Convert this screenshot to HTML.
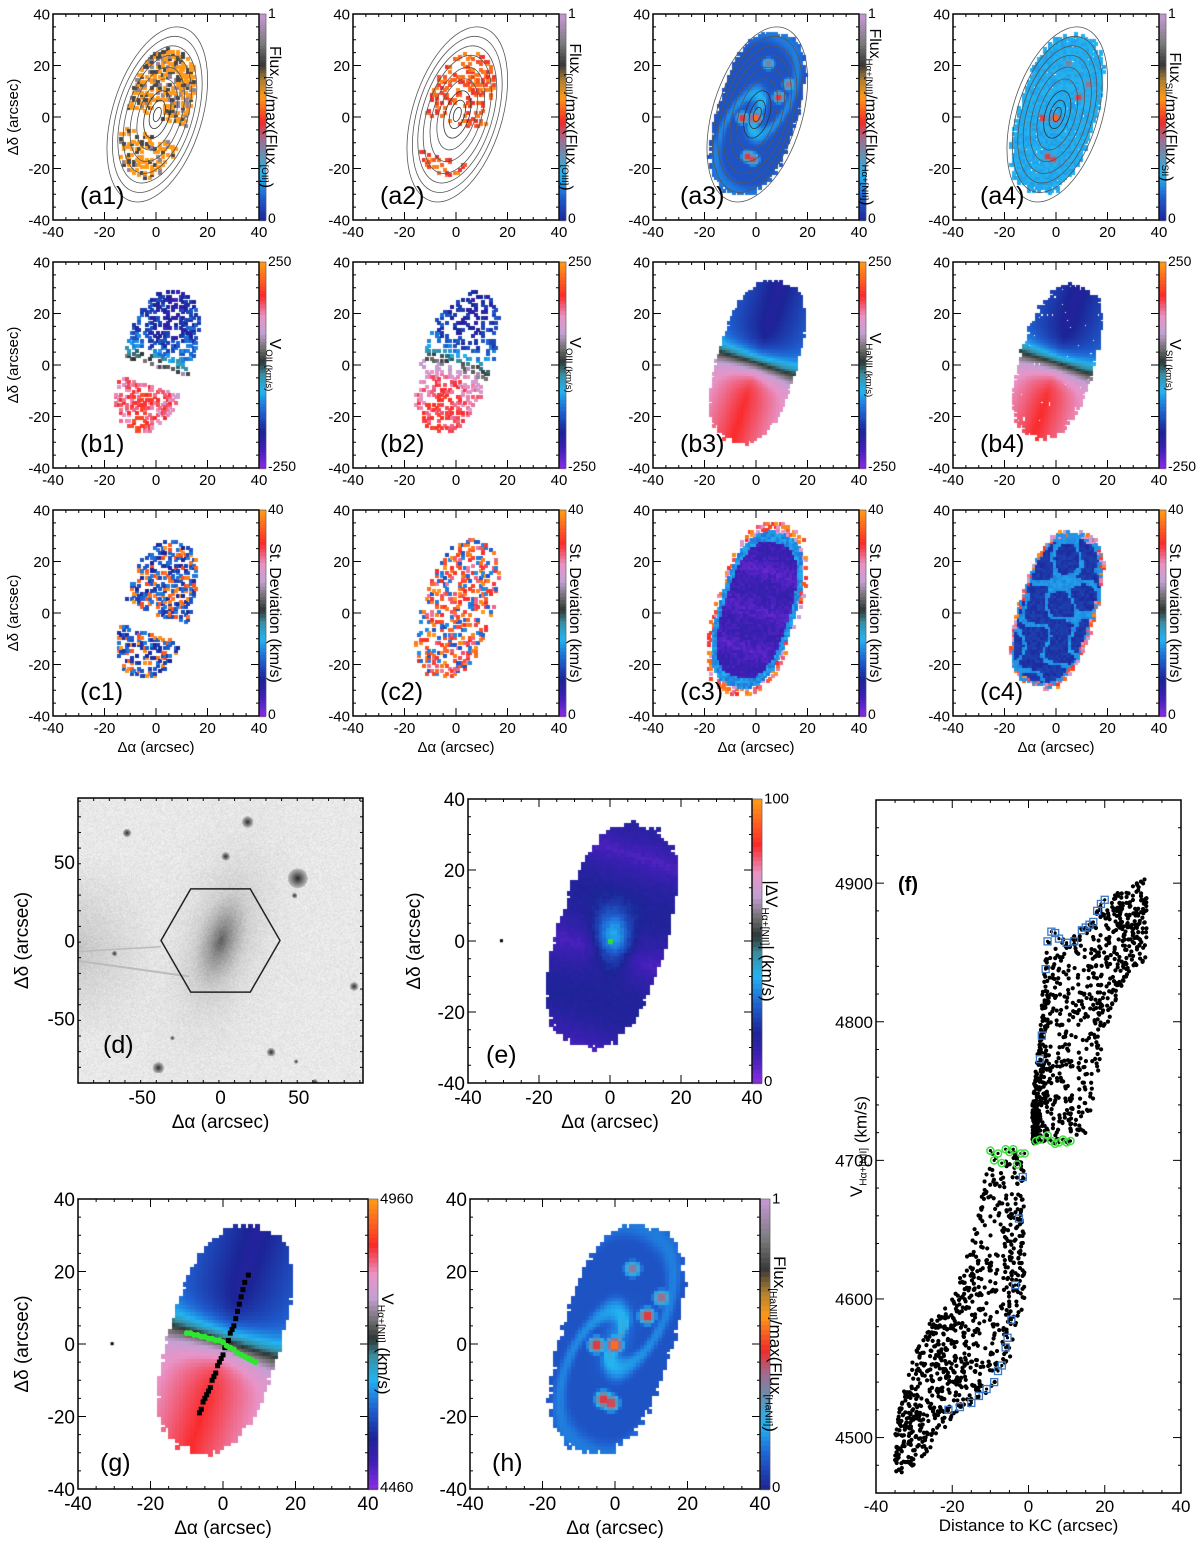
<!DOCTYPE html>
<html><head><meta charset="utf-8">
<style>
html,body{margin:0;padding:0;background:#fff;}
#wrap{position:relative;width:1200px;height:1547px;overflow:hidden;}
#cv{position:absolute;left:0;top:0;}
#sv{position:absolute;left:0;top:0;}
text{font-family:"Liberation Sans",sans-serif;fill:#000;}
</style></head>
<body>
<div id="wrap">
<canvas id="cv" width="1200" height="1547"></canvas>
<svg id="sv" width="1200" height="1547" xmlns="http://www.w3.org/2000/svg"></svg>
</div>
<script>
// ---------- data for panel (f) ----------
const fBinX=[-35,-30,-25,-20,-15,-10,-5,-1, 1,3,5,10,15,20,25,31];
const fLo=[4472,4480,4495,4515,4522,4535,4555,4600, 4712,4712,4712,4712,4715,4790,4830,4845];
const fHi=[4510,4560,4590,4600,4640,4705,4710,4700, 4740,4800,4860,4860,4872,4890,4895,4905];
const fBlueX=[-21,-18,-15,-13,-11,-9,-8,-7,-6,-5.5,-4.5,-3.5,-2.5,-1.5,3,3.5,4.5,5,6,7,8,10,12,14,15,16,17,18,19,20];
const fBlueV=[4520,4522,4525,4530,4535,4540,4548,4552,4565,4572,4585,4610,4658,4688,4773,4790,4838,4858,4865,4864,4860,4857,4858,4866,4868,4870,4872,4880,4885,4888];
const fGreenX=[-10,-9,-8,-7,-6,-5,-4,-3,-2,-1,2,3,5,6,7,8,9,10,11];
const fGreenV=[4707,4700,4705,4698,4708,4706,4708,4697,4705,4705,4714,4715,4718,4714,4712,4713,4715,4713,4714];
const fXTicks=[-40,-20,0,20,40];
const fYTicks=[4500,4600,4700,4800,4900];
// ---------- data for panel (g) overlays ----------
const gBlackX=[7,6,5.5,5,4.5,4,3.5,3,2.5,2,1.5,1,0.5,0,-0.5,-1,-1.5,-2,-2.5,-3,-3.5,-4,-4.5,-5,-5.5,-6,-6.5];
const gBlackY=[19,17,15,13,11,9,7,5,4,3,1,0,-1,-3,-4,-5,-6,-8,-9,-10,-12,-13,-14,-15,-16,-18,-19];
const gGreenX=[-10,-9,-8,-7,-6,-5,-4,-3,-2,-1,0,1,2,3,4,5,6,7,8,9];
const gGreenY=[3,3,2.5,2.5,2,2,1.5,1.5,1,1,0.5,-0.5,-1,-1.5,-2.5,-3,-3.5,-4,-4.5,-5];
// ---------- map knots ----------
const knotX=[-5,0,9,13,5,-3,-1];
const knotY=[0,0,8,13,21,-15,-16];
const knotT=[0.5,0.6,0.5,0.42,0.4,0.5,0.48];
// ---------- panel (d) stars ----------
const starX=[-60,17,3,49,47,-68,85,-40,32,-31,48,60];
const starY=[69,76,54,40,29,-8,-29,-81,-71,-62,-77,-90];
const starR=[3,4,3,7,2,2,3,4,3,1.5,1.5,2];
const contourA=[3,6,10,15,20,25,29,33,37];

const NS="http://www.w3.org/2000/svg";
const svg=document.getElementById('sv');
const ctx=document.getElementById('cv').getContext('2d');

function mk(tag,attrs,parent){const e=document.createElementNS(NS,tag);for(const k in attrs)e.setAttribute(k,attrs[k]);(parent||svg).appendChild(e);return e;}
function hsh(i,j,s){let n=Math.sin(i*127.1+j*311.7+s*74.7)*43758.5453;return n-Math.floor(n);}
function hex2(c){return [parseInt(c.substr(1,2),16),parseInt(c.substr(3,2),16),parseInt(c.substr(5,2),16)];}
function mkmap(stops){const s=stops.map(a=>[a[0],hex2(a[1])]);return function(t){t=Math.max(0,Math.min(1,t));for(let i=1;i<s.length;i++){if(t<=s[i][0]){const a=s[i-1],b=s[i];const f=(t-a[0])/(b[0]-a[0]||1);return 'rgb('+[0,1,2].map(k=>Math.round(a[1][k]+(b[1][k]-a[1][k])*f)).join(',')+')';}}const l=s[s.length-1][1];return 'rgb('+l.join(',')+')';};}
const VEL=mkmap([[0,'#8c2ee6'],[0.1,'#3c1fb4'],[0.18,'#1c2496'],[0.28,'#1f62d2'],[0.38,'#22b4f2'],[0.46,'#3a8c9c'],[0.52,'#2e3636'],[0.58,'#6c6c6c'],[0.66,'#c4a0d4'],[0.74,'#e894c8'],[0.84,'#fa2a2a'],[1,'#ff9a18']]);
const FLUX=mkmap([[0,'#1c2496'],[0.12,'#1f62d2'],[0.22,'#22b4f2'],[0.32,'#6890b0'],[0.4,'#a06c90'],[0.48,'#f22a2a'],[0.6,'#ff9a18'],[0.68,'#b08030'],[0.76,'#383838'],[0.86,'#7a7a7a'],[1,'#c898d8']]);

function P(x0,y0,w,h,xmin,xmax,ymin,ymax){return {x0,y0,w,h,xmin,xmax,ymin,ymax,fx:x=>x0+(x-xmin)/(xmax-xmin)*w,fy:y=>y0+h-(y-ymin)/(ymax-ymin)*h};}

// galaxy geometry (boxy, tilted)
const TH=17*Math.PI/180;
function geo(x,y){const dx=x-0.5,dy=y-1.5;const u=dx*Math.sin(TH)+dy*Math.cos(TH);const v=dx*Math.cos(TH)-dy*Math.sin(TH);return {u,v,r:Math.pow(Math.pow(Math.abs(u/32),2.6)+Math.pow(Math.abs(v/15),2.6),1/2.6)};}
function knots(x,y,sc){let t=0;for(let k=0;k<knotX.length;k++){const d2=(x-knotX[k])**2+(y-knotY[k])**2;t=Math.max(t,knotT[k]*Math.exp(-d2/(sc||5)));}return t;}

function drawMap(p,fn,cmap){for(let i=-40;i<40;i++)for(let j=-40;j<40;j++){const x=i+0.5,y=j+0.5;const t=fn(x,y,i,j);if(t===null||t===undefined)continue;ctx.fillStyle=cmap(t);const X1=p.fx(i),X2=p.fx(i+1),Y1=p.fy(j+1),Y2=p.fy(j);ctx.fillRect(Math.floor(X1),Math.floor(Y1),Math.ceil(X2-X1)+1,Math.ceil(Y2-Y1)+1);}}

function velT(g){return 0.5-0.34*Math.tanh(g.u/6)*(1-0.3*Math.min(1,Math.abs(g.v)/15));}
function armT(g){const ph=Math.atan2(g.v,g.u);const s=Math.max(0,Math.sin(2*ph+8*g.r));return 0.09+0.12*s*s*(1-0.5*g.r)+0.08*Math.exp(-g.r*g.r*20);}
const MF={
a1:(x,y,i,j)=>{const g=geo(x,y);if(g.r<0.15||g.r>0.8)return null;if(hsh(i,j,1)>(g.u>0?0.62:0.4))return null;if(g.u<-2&&g.u>-9)return null;const h=hsh(i,j,2);return h<0.6?0.6:(h<0.85?0.78:0.9);},
a2:(x,y,i,j)=>{const g=geo(x,y);if(g.r<0.15||g.r>0.78)return null;if(hsh(i,j,3)>0.34)return null;if(g.u<-4&&g.u>-18)return null;return 0.47+0.12*hsh(i,j,4);},
a3:(x,y,i,j)=>{const g=geo(x,y);if(g.r>1+0.08*(hsh(i,j,5)-0.5))return null;return Math.max(armT(g),knots(x,y,6));},
a4:(x,y,i,j)=>{const g=geo(x,y);if(g.r>0.97+0.1*(hsh(i,j,6)-0.5))return null;if(hsh(i,j,7)>0.97)return null;return Math.max(0.19+0.04*hsh(i,j,8),knots(x,y,5));},
b1:(x,y,i,j)=>{const g=geo(x,y);if(g.r>0.88||hsh(i,j,9)>0.42)return null;if(g.u>-10&&g.u<-2)return null;return velT(g)+0.15*(hsh(i,j,10)-0.5);},
b2:(x,y,i,j)=>{const g=geo(x,y);if(g.r>0.88||hsh(i,j,11)>0.3)return null;return velT(g)+0.12*(hsh(i,j,12)-0.5);},
b3:(x,y,i,j)=>{const g=geo(x,y);if(g.r>1+0.06*(hsh(i,j,13)-0.5))return null;return velT(g);},
b4:(x,y,i,j)=>{const g=geo(x,y);if(g.r>0.93+0.1*(hsh(i,j,14)-0.5)||hsh(i,j,15)>0.98)return null;return velT(g);},
c1:(x,y,i,j)=>{const g=geo(x,y);if(g.r>0.85||hsh(i,j,16)>0.42)return null;if(g.u>-10&&g.u<-2)return null;const h=hsh(i,j,17);return h<0.7?0.18+0.2*h:0.6+0.4*h;},
c2:(x,y,i,j)=>{const g=geo(x,y);if(g.r>0.88||hsh(i,j,18)>0.33)return null;const h=hsh(i,j,19);return h<0.3?0.25+0.3*h:0.65+0.35*h;},
c3:(x,y,i,j)=>{const g=geo(x,y);const h=hsh(i,j,20);if(g.r<0.85)return 0.04+0.05*h+0.04*Math.abs(Math.sin(g.u/5));if(g.r<0.97)return 0.3+0.08*h;if(g.r<1.08&&h<0.35)return 0.65+0.35*hsh(i,j,21);return null;},
c4:(x,y,i,j)=>{const g=geo(x,y);const h=hsh(i,j,22);if(g.r>0.97+0.08*(h-0.5))return null;if(g.r>0.9)return h<0.55?0.34:0.6+0.4*hsh(i,j,23);const v=Math.sin(0.31*x+0.17*y+0.4*Math.sin(0.2*y))+0.8*Math.sin(0.23*y-0.37*x+1.3)+0.5*Math.sin(0.5*y+0.1*x);return 0.19+(Math.abs(v)<0.35?0.13:0)+0.04*h;},
e:(x,y,i,j)=>{const g=geo(x,y);if(g.r>1+0.06*(hsh(i,j,24)-0.5))return null;const c=0.24*Math.exp(-((x-1)**2/25+(y-1)**2/60));return 0.07+0.09*Math.abs(Math.sin(g.u/9+0.5))+c+0.02*hsh(i,j,25);},
g:(x,y,i,j)=>MF.b3(x,y,i,j),
h:(x,y,i,j)=>MF.a3(x,y,i,j)
};

// ---------- axes ----------
function frame(p,name){const r=mk('rect',{x:p.x0,y:p.y0,width:p.w,height:p.h,fill:'none',stroke:'#000','stroke-width':1.5});}
function ticks(p,name,xt,yt,minX,minY,fs,showXL,showYL){
 const L=5,l=3;
 for(let v=p.xmin;v<=p.xmax+1e-6;v+=minX){const X=p.fx(v);const maj=xt.some(t=>Math.abs(t-v)<1e-6);const len=maj?L*1.6:l;
  const a=mk('line',{x1:X,y1:p.y0+p.h,x2:X,y2:p.y0+p.h-len,stroke:'#000','stroke-width':1});
  const b=mk('line',{x1:X,y1:p.y0,x2:X,y2:p.y0+len,stroke:'#000','stroke-width':1});}
 for(let v=p.ymin;v<=p.ymax+1e-6;v+=minY){const Y=p.fy(v);const maj=yt.some(t=>Math.abs(t-v)<1e-6);const len=maj?L*1.6:l;
  const a=mk('line',{x1:p.x0,y1:Y,x2:p.x0+len,y2:Y,stroke:'#000','stroke-width':1});
  const b=mk('line',{x1:p.x0+p.w,y1:Y,x2:p.x0+p.w-len,y2:Y,stroke:'#000','stroke-width':1});}
 if(showXL!==false)xt.forEach(v=>{const t=mk('text',{x:p.fx(v),y:p.y0+p.h+fs+2,'font-size':fs,'text-anchor':'middle'});t.textContent=v;});
 if(showYL!==false)yt.forEach(v=>{const t=mk('text',{x:p.x0-3,y:p.fy(v)+fs*0.36,'font-size':fs,'text-anchor':'end'});t.textContent=v;});
}
function rich(parts,attrs,fs,name){const t=mk('text',attrs);
 parts.forEach(pt=>{const s=document.createElementNS(NS,'tspan');s.textContent=pt[0];if(pt[1]){s.setAttribute('font-size',fs*0.6);s.setAttribute('dy',fs*0.25);}else{s.setAttribute('font-size',fs);}t.appendChild(s);
  if(pt[1]){const z=document.createElementNS(NS,'tspan');z.setAttribute('dy',-fs*0.25);z.textContent='';t.appendChild(z);}});return t;}
function cbar(p,name,cmap,top,bot,parts,fs,w,tfs){w=w||7;const cx=p.x0+p.w;const n=60;for(let k=0;k<n;k++){ctx.fillStyle=cmap((k+0.5)/n);const y1=p.y0+p.h-(k+1)*p.h/n;ctx.fillRect(cx,Math.floor(y1),w,Math.ceil(p.h/n)+1);}
 const r=mk('rect',{x:cx,y:p.y0,width:w,height:p.h,fill:'none',stroke:'#333','stroke-width':0.5});
 const a=mk('text',{x:cx+w+2,y:p.y0+fs*0.3,'font-size':fs});a.textContent=top;
 const b=mk('text',{x:cx+w+2,y:p.y0+p.h+fs*0.2,'font-size':fs});b.textContent=bot;
 rich(parts,{transform:'translate('+(cx+w+4)+','+(p.y0+p.h/2)+') rotate(90)','text-anchor':'middle'},tfs||fs,name+'-colorbar-title');}
function plab(txt,x,y,fs,name){const t=mk('text',{x:x,y:y,'font-size':fs});t.textContent=txt;}
function ytitle(x,y,fs,name,txt){const t=mk('text',{transform:'translate('+x+','+y+') rotate(-90)','font-size':fs,'text-anchor':'middle'});t.textContent=txt||'Δδ (arcsec)';}
function xtitle(x,y,fs,name,txt){const t=mk('text',{x:x,y:y,'font-size':fs,'text-anchor':'middle'});t.textContent=txt||'Δα (arcsec)';}

// ---------- top grid ----------
const rows=['a','b','c'];
const cbT={a:['1','0'],b:['250','-250'],c:['40','0']};
const cbTitles={
a1:[['Flux'],['[OII]',1],['/max(Flux'],['[OII]',1],[')']],
a2:[['Flux'],['[OIII]',1],['/max(Flux'],['[OIII]',1],[')']],
a3:[['Flux'],['Hα+[NII]',1],['/max(Flux'],['Hα+[NII]',1],[')']],
a4:[['Flux'],['SII',1],['/max(Flux'],['SII',1],[')']],
b1:[['V'],['OII (km/s)',1]],b2:[['V'],['OIII (km/s)',1]],b3:[['V'],['HaNII (km/s)',1]],b4:[['V'],['SII (km/s)',1]],
c1:[['St. Deviation (km/s)']],c2:[['St. Deviation (km/s)']],c3:[['St. Deviation (km/s)']],c4:[['St. Deviation (km/s)']]};
const T=[-40,-20,0,20,40];
for(let r=0;r<3;r++)for(let c=0;c<4;c++){
 const id=rows[r]+(c+1);const p=P(53+300*c,14+248*r,206,206,-40,40,-40,40);
 const cm=r===0?FLUX:VEL;drawMap(p,MF[id],cm);
 if(r===0){const g=mk('g',{});
  contourA.forEach((A,k)=>{const e=mk('ellipse',{cx:p.fx(0.5),cy:p.fy(1),rx:(A*0.47)*p.w/80,ry:A*0.95*p.h/80,fill:'none',stroke:k<3?'#333':'#555','stroke-width':0.8,transform:'rotate('+17+' '+p.fx(0.5)+' '+p.fy(1)+')'},g);});}
 frame(p,id);ticks(p,id,T,T,5,5,15,true,true);
 cbar(p,id,cm,cbT[rows[r]][0],cbT[rows[r]][1],cbTitles[id],14,7,16);
 plab('('+id+')',p.x0+27,p.y0+p.h-16,25,id);
 if(c===0)ytitle(18,p.y0+p.h/2,15,id);
 if(r===2)xtitle(p.x0+p.w/2,p.y0+p.h+36,15,id);
}

// ---------- panel d ----------
(function(){const p=P(78,798,285,285,-91,91,-91,91);
 for(let X=0;X<p.w;X+=1)for(let Y=0;Y<p.h;Y+=1){const x=p.xmin+X/p.w*182,y=p.ymax-Y/p.h*182;
  let I=244-22*hsh(X,Y,30);
  if(x<-40)I-=(1-(x+91)/51)*35*Math.max(0,1-Math.abs(y+5)/60);
  const du=x*Math.sin(TH)+y*Math.cos(TH),dv=x*Math.cos(TH)-y*Math.sin(TH);const rr=Math.sqrt((du/32)**2+(dv/15)**2);
  I-=110*Math.exp(-rr*1.4)+30*Math.max(0,1-rr);
  for(let k=0;k<starX.length;k++){const d=Math.hypot(x-starX[k],y-starY[k]);const R=starR[k]*0.9;if(d<R)I=Math.min(I,40+150*d/R);}
  I=Math.max(0,Math.min(255,I|0));ctx.fillStyle='rgb('+I+','+I+','+I+')';ctx.fillRect(p.x0+X,p.y0+Y,1,1);}
 const s1=mk('line',{x1:p.fx(-91),y1:p.fy(-7),x2:p.fx(-38),y2:p.fy(-4),stroke:'#bbb','stroke-width':1.5});
 const s2=mk('line',{x1:p.fx(-91),y1:p.fy(-13),x2:p.fx(-20),y2:p.fy(-23),stroke:'#bbb','stroke-width':2});
 const hx=[-38,-19,19,38,19,-19],hy=[0,33,33,0,-33,-33];
 const hp=mk('polygon',{points:hx.map((v,k)=>p.fx(v)+','+p.fy(hy[k])).join(' '),fill:'none',stroke:'#222','stroke-width':1.5});
 frame(p,'d');ticks(p,'d',[-50,0,50],[-50,0,50],10,10,19);
 plab('(d)',p.x0+25,p.y0+p.h-30,25,'d');ytitle(28,p.y0+p.h/2,19,'d');xtitle(p.x0+p.w/2,p.y0+p.h+45,19,'d');})();

// ---------- panel e ----------
(function(){const p=P(468,799,284,284,-40,40,-40,40);drawMap(p,MF.e,VEL);
 ctx.fillStyle='#000';ctx.fillRect(p.fx(-31),p.fy(0.5),3,3);ctx.fillStyle='#2ee02e';ctx.fillRect(p.fx(0)-2,p.fy(0)-2,5,5);
 frame(p,'e');ticks(p,'e',T,T,5,5,19);cbar(p,'e',VEL,'100','0',[['|ΔV'],['Hα+[NII]',1],['| (km/s)']],15,10,17);
 plab('(e)',p.x0+18,p.y0+p.h-20,25,'e');ytitle(420,p.y0+p.h/2,19,'e');xtitle(p.x0+p.w/2,p.y0+p.h+45,19,'e');})();

// ---------- panel g ----------
(function(){const p=P(78,1199,290,290,-40,40,-40,40);drawMap(p,MF.g,VEL);
 ctx.fillStyle='#000';ctx.fillRect(p.fx(-31),p.fy(0.5),3,3);
 for(let k=0;k<gBlackX.length;k++){const c=mk('rect',{x:p.fx(gBlackX[k])-2.5,y:p.fy(gBlackY[k])-2.5,width:5,height:5,fill:'#000'});}
 for(let k=0;k<gGreenX.length;k++){const c=mk('circle',{cx:p.fx(gGreenX[k]),cy:p.fy(gGreenY[k]),r:3,fill:'#2ee62e'});}
 frame(p,'g');ticks(p,'g',T,T,5,5,19);cbar(p,'g',VEL,'4960','4460',[['V'],['Hα+[NII]',1],[' (km/s)']],15,10,17);
 plab('(g)',p.x0+22,p.y0+p.h-18,25,'g');ytitle(28,p.y0+p.h/2,19,'g');xtitle(p.x0+p.w/2,p.y0+p.h+45,19,'g');})();

// ---------- panel h ----------
(function(){const p=P(470,1199,290,290,-40,40,-40,40);drawMap(p,MF.h,FLUX);
 frame(p,'h');ticks(p,'h',T,T,5,5,19);cbar(p,'h',FLUX,'1','0',[['Flux'],['[HaNII]',1],['/max(Flux'],['[HaNII]',1],[')']],15,10,17);
 plab('(h)',p.x0+22,p.y0+p.h-18,25,'h');xtitle(p.x0+p.w/2,p.y0+p.h+45,19,'h');})();

// ---------- panel f ----------
(function(){const p=P(876,800,305,693,-40,40,4460,4960);
 const g=mk('g',{});
 for(let s=0;s<fBinX.length-1;s++){if(s===7)continue;const n=120;for(let k=0;k<n;k++){const a=hsh(s,k,40),b=hsh(s,k,41);const x=fBinX[s]+a*(fBinX[s+1]-fBinX[s]);const lo=fLo[s]+a*(fLo[s+1]-fLo[s]),hi=fHi[s]+a*(fHi[s+1]-fHi[s]);const v=lo+b*(hi-lo);
  const c=mk('circle',{cx:p.fx(x),cy:p.fy(v),r:2.1,fill:'#000'},g);}}
 for(let k=0;k<fBlueX.length;k++){const X=p.fx(fBlueX[k]),Y=p.fy(fBlueV[k]);const r=mk('rect',{x:X-3.5,y:Y-3.5,width:7,height:7,fill:'none',stroke:'#3a78c8','stroke-width':1.3});const d=mk('circle',{cx:X,cy:Y,r:1.6,fill:'#000'});}
 for(let k=0;k<fGreenX.length;k++){const X=p.fx(fGreenX[k]),Y=p.fy(fGreenV[k]);const c=mk('circle',{cx:X,cy:Y,r:3.6,fill:'none',stroke:'#3ee23e','stroke-width':1.5});const d=mk('circle',{cx:X,cy:Y,r:1.6,fill:'#000'});}
 frame(p,'f');ticks(p,'f',fXTicks,fYTicks,5,20,17);
 const fl=mk('text',{x:p.x0+22,y:p.fy(4900)+8,'font-size':20,'font-weight':'bold'});fl.textContent='(f)';
 rich([['V'],['Hα+[NII]',1],[' (km/s)']],{transform:'translate(862,'+(p.y0+p.h/2)+') rotate(-90)','text-anchor':'middle'},17,'f-y-axis-title');
 xtitle(p.x0+p.w/2,p.y0+p.h+38,17,'f','Distance to KC (arcsec)');})();
</script>
</body></html>
